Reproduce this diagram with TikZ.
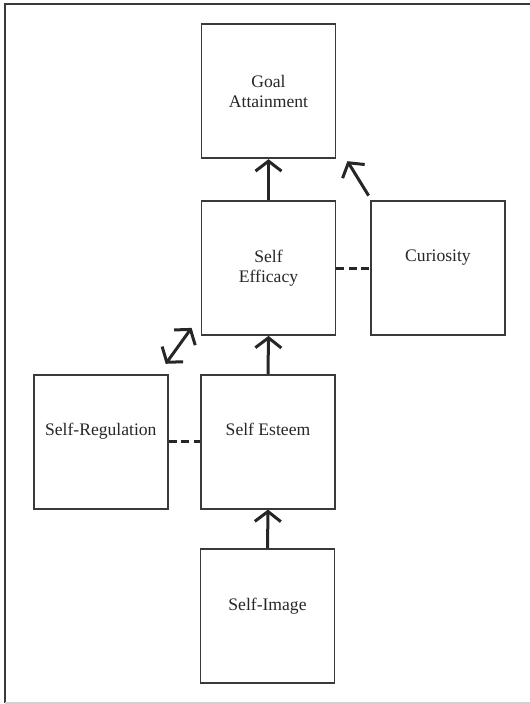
\documentclass[tikz,border=0pt]{standalone}
\usepackage{fontspec}
\setmainfont{Liberation Serif}
\usetikzlibrary{arrows.meta,calc}
\definecolor{ink}{HTML}{262626}
\definecolor{edge}{HTML}{3A3A3A}
\definecolor{rule}{HTML}{D0D0D0}
\begin{document}
\begin{tikzpicture}[x=1pt,y=-1pt,
  box/.style={draw=edge, line width=1.8pt, minimum width=134pt, minimum height=134pt,
    inner sep=0pt, align=center, text=ink, font=\fontsize{17.6}{20.6}\selectfont},
  barb/.tip={Straight Barb[length=10pt,width=26pt]},
  link/.style={draw=ink, line width=3pt, -barb},
  twoway/.style={draw=ink, line width=3pt, barb-barb},
  assoc/.style={draw=ink, line width=3pt, dash pattern=on 8pt off 4.5pt}]
  \useasboundingbox (0,0) rectangle (530,704);

  % page frame
  \draw[edge, line width=2pt] (5,703) -- (5,4) -- (530,4);
  \draw[rule, line width=1.2pt] (5,703) -- (530,703);

  % constructs
  \node[box] (goal)     at (268.5,91.3) {Goal\\Attainment};
  \node[box] (efficacy) at (268.5,268)  {Self\\Efficacy};
  \node[box] (curio)    at (438,268)    {Curiosity\\\phantom{g}};
  \node[box] (selfreg)  at (100.8,441.7){Self-Regulation\\\phantom{g}};
  \node[box] (esteem)   at (268,441.7)  {Self Esteem\\\phantom{g}};
  \node[box] (image)    at (267.5,616)  {Self-Image\\\phantom{g}};

  % free ends of the diagonal connectors
  \coordinate (curioOut) at ($(curio.north west)+(-1.5,-4.5)$);
  \coordinate (goalIn)   at ($(goal.south east)+(11,2)$);
  \coordinate (regEnd)   at ($(selfreg.north east)+(-3,-10)$);
  \coordinate (effEnd)   at ($(efficacy.south west)+(-9,-8)$);

  % directed influences
  \draw[link] (image.north) -- (esteem.south);
  \draw[link] (esteem.north) -- (efficacy.south);
  \draw[link] (efficacy.north) -- (goal.south);
  \draw[link] (curioOut) -- (goalIn);
  \draw[twoway] (regEnd) -- (effEnd);

  % associations
  \draw[assoc] (efficacy.east) -- (curio.west);
  \draw[assoc] (selfreg.east) -- (esteem.west);
\end{tikzpicture}
\end{document}
